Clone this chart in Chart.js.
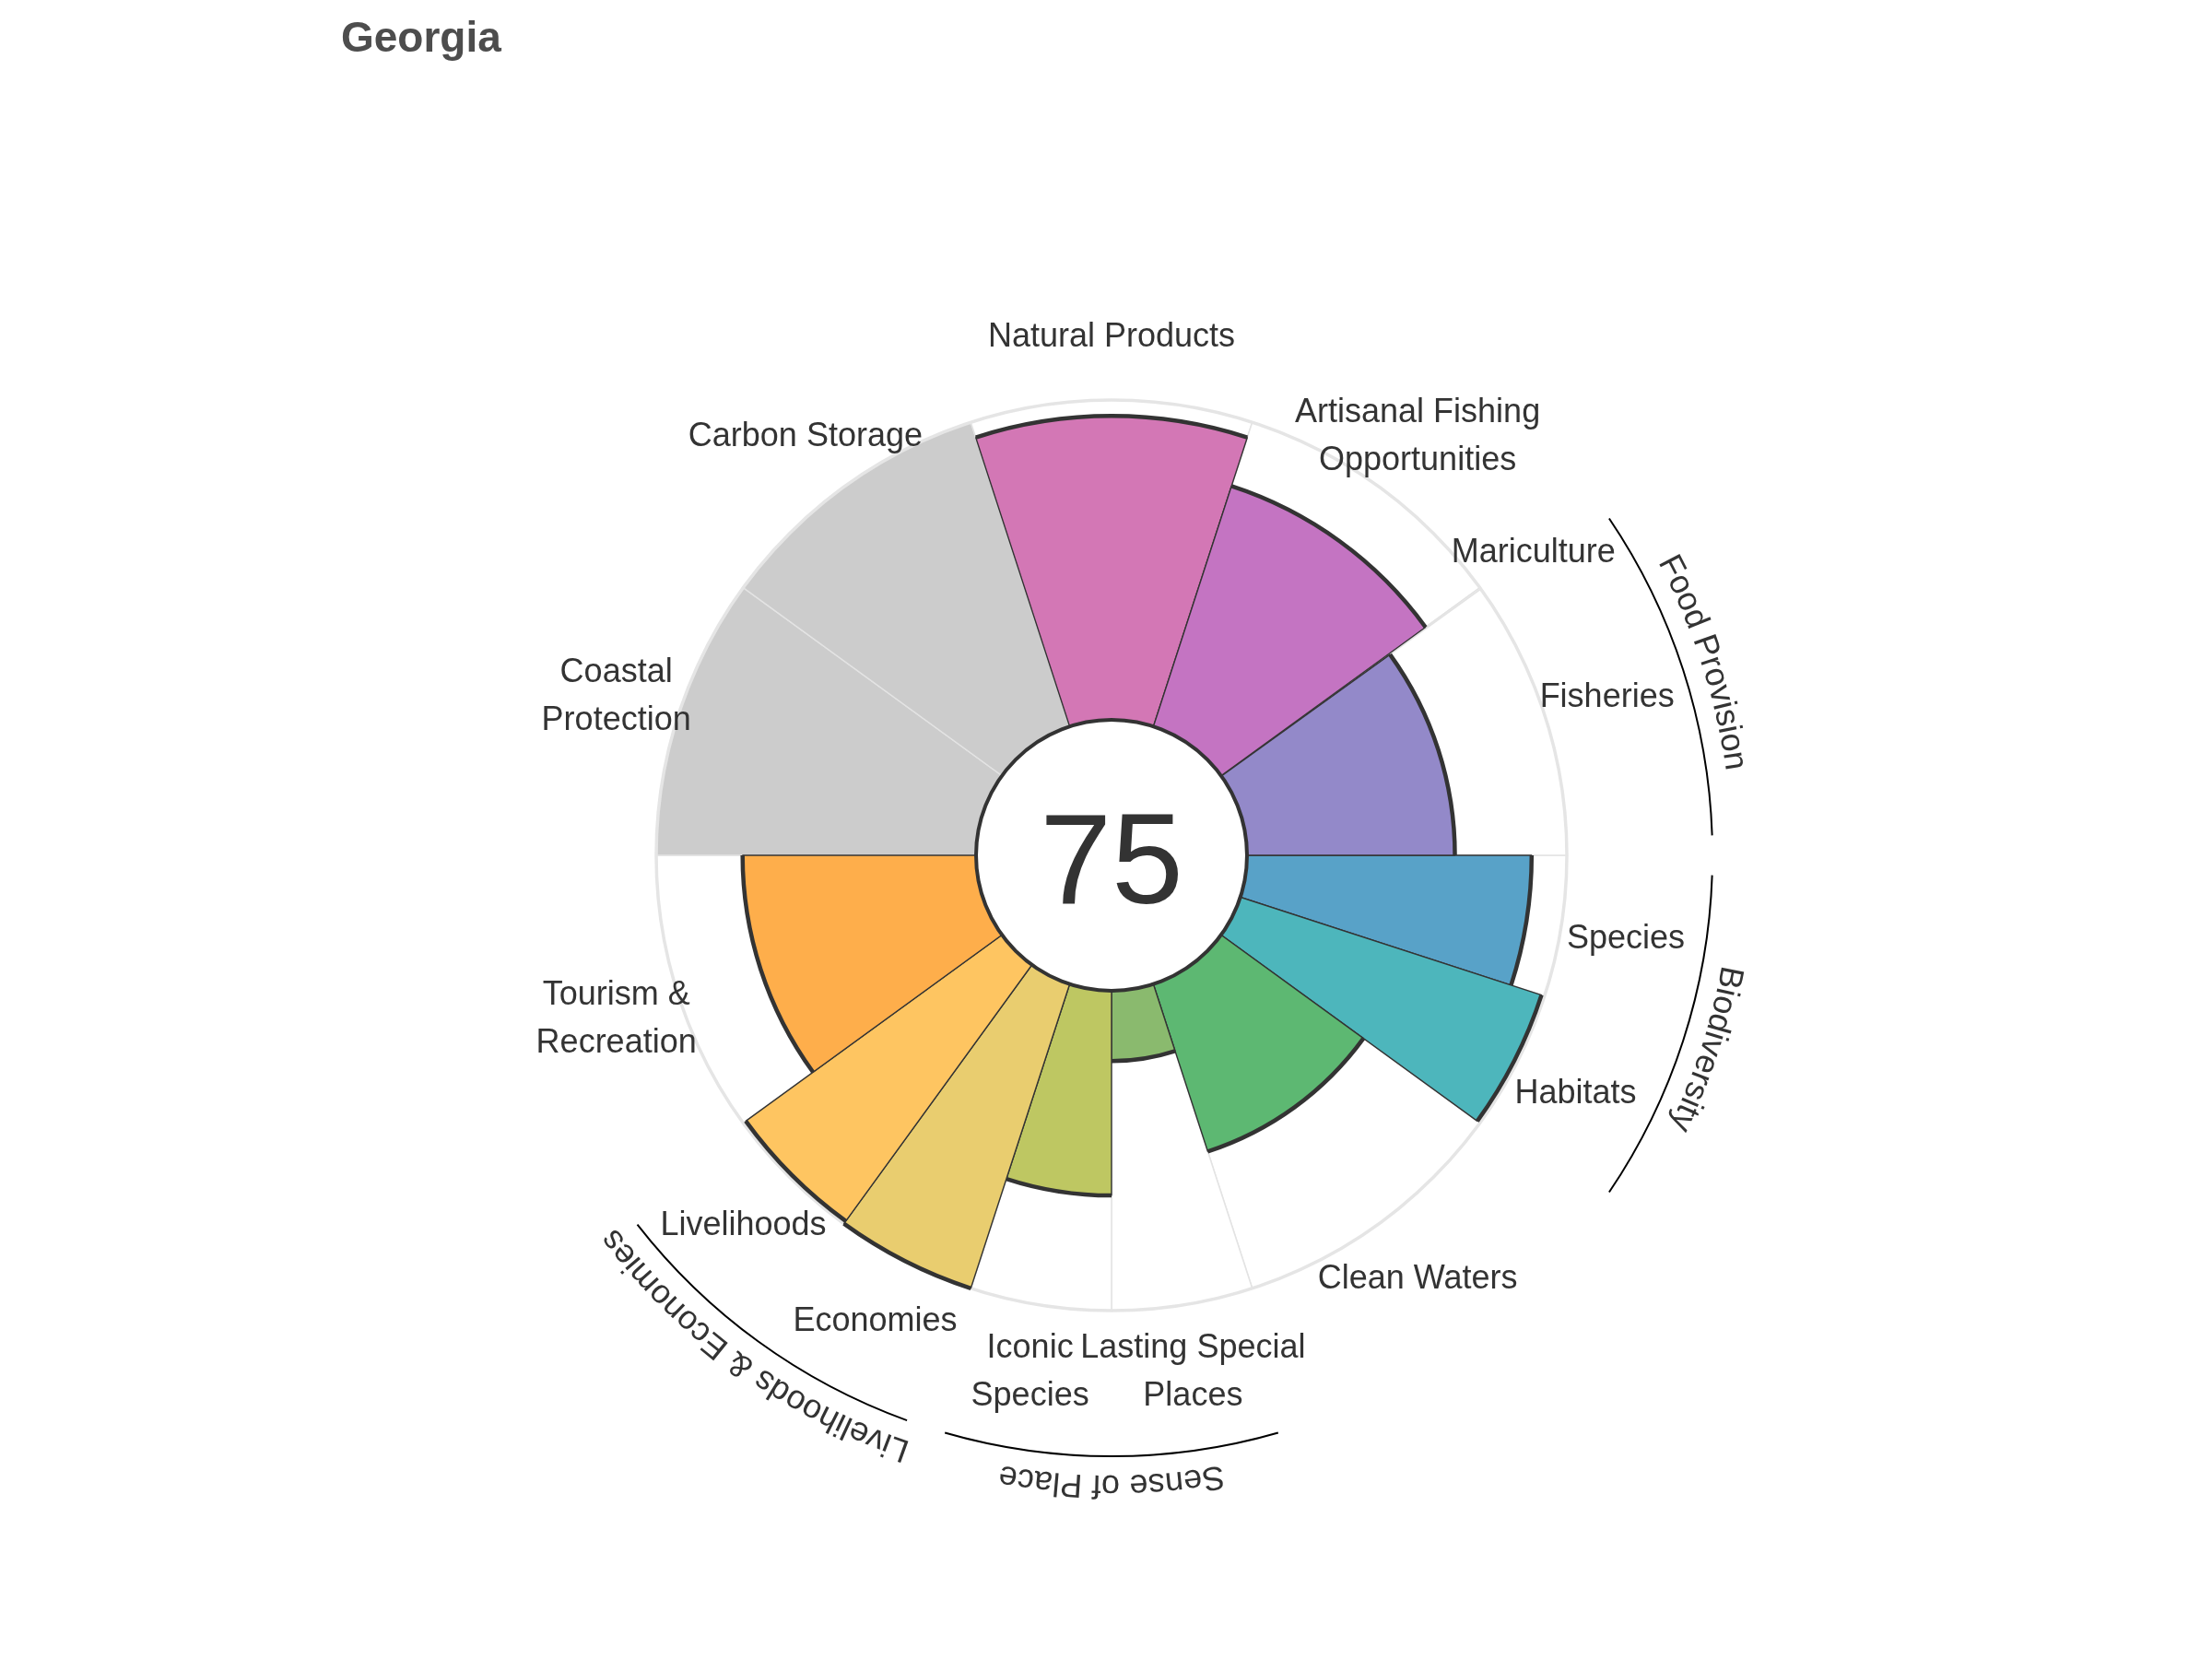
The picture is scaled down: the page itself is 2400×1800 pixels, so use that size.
<!DOCTYPE html>
<html>
<head>
<meta charset="utf-8">
<script src="https://cdn.jsdelivr.net/npm/chart.js@4.4.1/dist/chart.umd.min.js"></script>
<style>
html,body{margin:0;padding:0;background:#ffffff;}
#wrap{width:2400px;height:1800px;}
</style>
</head>
<body>
<div id="wrap"><canvas id="c" width="2400" height="1800"></canvas></div>
<script>
// ---------------- data ----------------
const chartTitle = 'Georgia';
const indexScore = 75;
const goalLabels = ['Species', 'Habitats', 'Clean Waters', 'Lasting Special\nPlaces', 'Iconic\nSpecies',
  'Economies', 'Livelihoods', 'Tourism &\nRecreation', 'Coastal\nProtection', 'Carbon Storage',
  'Natural Products', 'Artisanal Fishing\nOpportunities', 'Mariculture', 'Fisheries'];
const goalScores = [89, 99, 55, 22, 64, 100, 99, 73, null, null, 95, 79, 0, 65];
const goalWeights = [18, 18, 36, 18, 18, 18, 18, 36, 36, 36, 36, 36, 0.2, 35.8];
const goalColors = ['#58a2c8', '#4db6bc', '#5db872', '#8aba6e', '#bec762', '#e9cd6f', '#fec561',
  '#feae4b', '#cccccc', '#cccccc', '#d377b5', '#c474c2', '#9a90cc', '#9389c9'];
const groupNames = ['Biodiversity', 'Sense of Place', 'Livelihoods & Economies', 'Food Provision'];
const groupFirst = [0, 3, 5, 12];
const groupLast = [1, 4, 6, 13];

// ---------------- layout constants ----------------
const CX = 1206, CY = 928, RAD = 494, HOLE = 147;
const scaleMin = -100 * HOLE / (RAD - HOLE);
const FONT = '"Liberation Sans", Arial, Helvetica, sans-serif';
const TXT = '#333333';

const flowerPlugin = {
  id: 'flower',
  afterDatasetDraw(chart, args) {
    if (args.index !== 1) return;
    const s = chart.scales.r, ctx = chart.ctx;
    ctx.save();
    ctx.beginPath();
    ctx.arc(s.xCenter, s.yCenter, s.drawingArea, 0, Math.PI * 2);
    ctx.lineWidth = 3.5;
    ctx.strokeStyle = '#e5e5e5';
    ctx.stroke();
    ctx.restore();
  },
  afterDatasetsDraw(chart) {
    const ctx = chart.ctx, s = chart.scales.r;
    const cx = s.xCenter, cy = s.yCenter;
    const meta = chart.getDatasetMeta(0);
    const bgMeta = chart.getDatasetMeta(1);
    ctx.save();
    // thick outer edge of each petal
    meta.data.forEach((el, i) => {
      if (goalScores[i] === null || goalScores[i] <= 0) return;
      ctx.beginPath();
      ctx.arc(el.x, el.y, el.outerRadius, el.startAngle, el.endAngle);
      ctx.lineWidth = 4.5;
      ctx.lineCap = 'butt';
      ctx.strokeStyle = '#333333';
      ctx.stroke();
    });
    // centre hole
    const hole = s.getDistanceFromCenterForValue(0);
    ctx.beginPath();
    ctx.arc(cx, cy, hole, 0, Math.PI * 2);
    ctx.fillStyle = '#ffffff';
    ctx.fill();
    ctx.lineWidth = 4;
    ctx.strokeStyle = '#333333';
    ctx.stroke();
    // index score
    ctx.fillStyle = TXT;
    ctx.font = '140px ' + FONT;
    ctx.textAlign = 'center';
    ctx.textBaseline = 'alphabetic';
    ctx.fillText(String(indexScore), cx, cy + 52);
    // goal labels
    ctx.font = '36px ' + FONT;
    ctx.textBaseline = 'middle';
    const labR = s.drawingArea + 71;
    bgMeta.data.forEach((el, i) => {
      const a = (el.startAngle + el.endAngle) / 2;
      const px = cx + labR * Math.cos(a), py = cy + 3 + labR * Math.sin(a);
      const lines = goalLabels[i].split('\n');
      lines.forEach((ln, k) => ctx.fillText(ln, px, py + (k - (lines.length - 1) / 2) * 52));
    });
    // group arcs and curved names
    const arcR = s.drawingArea + 158;
    const txtR = s.drawingArea + 179;
    const pad = 1.9 * Math.PI / 180;
    groupNames.forEach((name, g) => {
      const a0 = bgMeta.data[groupFirst[g]].startAngle;
      const a1 = bgMeta.data[groupLast[g]].endAngle;
      ctx.beginPath();
      ctx.arc(cx, cy, arcR, a0 + pad, a1 - pad);
      ctx.lineWidth = 2;
      ctx.strokeStyle = '#000000';
      ctx.stroke();
      ctx.font = '36px ' + FONT;
      ctx.fillStyle = TXT;
      ctx.textAlign = 'center';
      ctx.textBaseline = 'alphabetic';
      const total = ctx.measureText(name).width;
      const mid = (a0 + a1) / 2;
      let ang = mid - total / 2 / txtR;
      for (const ch of name) {
        const w = ctx.measureText(ch).width;
        const ca = ang + w / 2 / txtR;
        ctx.save();
        ctx.translate(cx + txtR * Math.cos(ca), cy + txtR * Math.sin(ca));
        ctx.rotate(ca + Math.PI / 2);
        ctx.fillText(ch, 0, 0);
        ctx.restore();
        ang += w / txtR;
      }
    });
    // title
    ctx.font = 'bold 46px ' + FONT;
    ctx.fillStyle = '#4d4d4d';
    ctx.textAlign = 'left';
    ctx.textBaseline = 'alphabetic';
    ctx.fillText(chartTitle, 370, 56);
    ctx.restore();
  }
};

new Chart(document.getElementById('c'), {
  type: 'polarArea',
  data: {
    labels: goalLabels.map(l => l.replace('\n', ' ')),
    datasets: [
      {
        label: 'score',
        data: goalScores.map(v => v === null ? scaleMin : v),
        backgroundColor: goalColors,
        borderColor: '#333333',
        borderWidth: goalScores.map(v => v === null ? 0 : 1.4),
        angle: ctx => goalWeights[ctx.dataIndex]
      },
      {
        label: 'background',
        data: goalScores.map(() => 100),
        backgroundColor: goalScores.map(v => v === null ? '#cccccc' : '#ffffff'),
        borderColor: '#e3e3e3',
        borderWidth: 1.5,
        angle: ctx => goalWeights[ctx.dataIndex]
      }
    ]
  },
  options: {
    responsive: false,
    animation: false,
    devicePixelRatio: 1,
    events: [],
    layout: { padding: { left: CX - RAD, right: 2400 - CX - RAD, top: CY - RAD, bottom: 1800 - CY - RAD } },
    plugins: { legend: { display: false }, tooltip: { enabled: false }, title: { display: false } },
    scales: {
      r: {
        min: scaleMin, max: 100, startAngle: 90,
        ticks: { display: false },
        grid: { display: false },
        angleLines: { display: false },
        pointLabels: { display: false }
      }
    }
  },
  plugins: [flowerPlugin]
});
</script>
</body>
</html>
